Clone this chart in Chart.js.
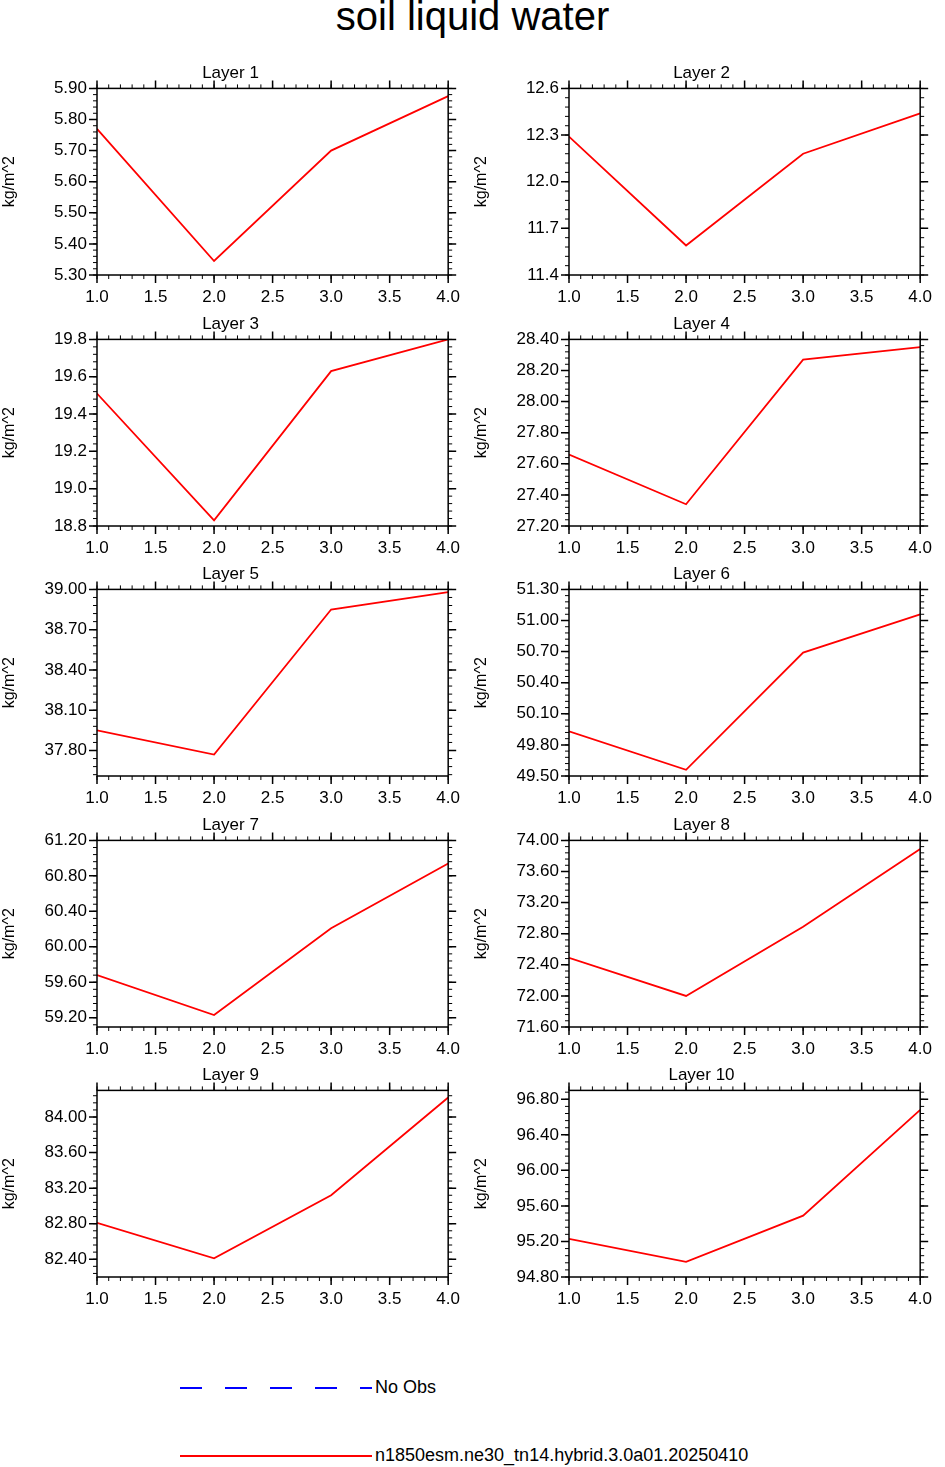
<!DOCTYPE html>
<html>
<head>
<meta charset="utf-8">
<script src="https://cdn.jsdelivr.net/npm/chart.js@4/dist/chart.umd.min.js"></script>
<style>
  body { margin: 0; background: #fff; font-family: "Liberation Sans", Arial, sans-serif; }
  #page { position: relative; width: 945px; height: 1467px; }
  #title { position: absolute; top: -6px; width: 945px; text-align: center; font-size: 40px; }
  .panel { position: absolute; width: 472px; height: 260px; }
  .leg { position: absolute; left: 180px; width: 192px; height: 2px; }
  .legtxt { position: absolute; left: 375px; font-size: 18px; }
</style>
</head>
<body>
<div id="page">
  <div id="title">soil liquid water</div>
  <div class="leg" style="top:1387px;background:repeating-linear-gradient(90deg,#0000ff 0 22px,transparent 22px 45px)"></div>
  <div class="legtxt" style="top:1377px">No Obs</div>
  <div class="leg" style="top:1455px;background:#ff0000"></div>
  <div class="legtxt" style="top:1445px">n1850esm.ne30_tn14.hybrid.3.0a01.20250410</div>
</div>
<script>
const xValues = [1, 2, 3, 4];
const layerNames = ["Layer 1", "Layer 2", "Layer 3", "Layer 4", "Layer 5",
                    "Layer 6", "Layer 7", "Layer 8", "Layer 9", "Layer 10"];
const layer1 = [5.77, 5.345, 5.70, 5.875];
const layer2 = [12.29, 11.59, 12.18, 12.44];
const layer3 = [19.51, 18.83, 19.63, 19.80];
const layer4 = [27.66, 27.34, 28.27, 28.35];
const layer5 = [37.95, 37.77, 38.85, 38.98];
const layer6 = [49.93, 49.56, 50.69, 51.06];
const layer7 = [59.68, 59.23, 60.21, 60.94];
const layer8 = [72.49, 72.00, 72.89, 73.89];
const layer9 = [82.81, 82.41, 83.12, 84.22];
const layer10 = [95.23, 94.97, 95.49, 96.68];
// y axis [min, max, step, decimals]
const yRanges = [
  [5.30, 5.90, 0.1, 2], [11.4, 12.6, 0.3, 1], [18.8, 19.8, 0.2, 1],
  [27.20, 28.40, 0.2, 2], [37.61, 39.00, 0.3, 2], [49.50, 51.30, 0.3, 2],
  [59.095, 61.20, 0.4, 2], [71.60, 74.00, 0.4, 2], [82.20, 84.30, 0.4, 2],
  [94.80, 96.90, 0.4, 2]
];
const allLayers = [layer1, layer2, layer3, layer4, layer5, layer6, layer7, layer8, layer9, layer10];

const FONT = "Liberation Sans";

// draws outward major/minor ticks on all four sides, plus the frame
const tickFrame = {
  id: "tickFrame",
  afterDraw(chart) {
    const { ctx, chartArea: a, scales } = chart;
    ctx.save();
    ctx.strokeStyle = "#000";
    ctx.lineWidth = 1.5;
    ctx.strokeRect(a.left, a.top, a.right - a.left, a.bottom - a.top);
    const drawTicks = (scale, horizontal) => {
      const vals = scale.ticks.map((t) => t.value);
      const step = vals.length > 1 ? vals[1] - vals[0] : 0;
      const minors = [];
      for (let v = vals[0] - step; v <= scale.max + 1e-9; v += step / 5) {
        if (v >= scale.min - 1e-9) minors.push(v);
      }
      const mark = (v, len) => {
        const p = scale.getPixelForValue(v);
        ctx.beginPath();
        if (horizontal) {
          ctx.moveTo(p, a.bottom); ctx.lineTo(p, a.bottom + len);
          ctx.moveTo(p, a.top); ctx.lineTo(p, a.top - len);
        } else {
          ctx.moveTo(a.left, p); ctx.lineTo(a.left - len, p);
          ctx.moveTo(a.right, p); ctx.lineTo(a.right + len, p);
        }
        ctx.stroke();
      };
      ctx.lineWidth = 1;
      minors.forEach((v) => mark(v, 4));
      ctx.lineWidth = 1.5;
      vals.forEach((v) => mark(v, 8));
    };
    drawTicks(scales.x, true);
    drawTicks(scales.y, false);
    ctx.restore();
  },
};

const page = document.getElementById("page");
allLayers.forEach((data, i) => {
  const col = i % 2, row = Math.floor(i / 2);
  const div = document.createElement("div");
  div.className = "panel";
  div.style.left = (col * 472) + "px";
  div.style.top = (60 + row * 250.5) + "px";
  const canvas = document.createElement("canvas");
  canvas.width = 472;
  canvas.height = 260;
  div.appendChild(canvas);
  page.appendChild(div);
  const [ymin, ymax, ystep, dec] = yRanges[i];
  new Chart(canvas, {
    type: "line",
    data: {
      datasets: [{
        data: xValues.map((x, k) => ({ x: x, y: data[k] })),
        borderColor: "#ff0000",
        borderWidth: 1.8,
        pointRadius: 0,
        tension: 0,
      }],
    },
    options: {
      responsive: false,
      animation: false,
      devicePixelRatio: 1,
      layout: { padding: { top: 0, right: col ? 13 : 11, bottom: 0, left: 0 } },
      plugins: {
        legend: { display: false },
        tooltip: { enabled: false },
        title: {
          display: true, text: layerNames[i], color: "#000",
          font: { family: FONT, size: 17, weight: "normal" },
          padding: { top: 3, bottom: 5 },
        },
      },
      scales: {
        x: {
          type: "linear", min: 1, max: 4,
          grid: { display: false, drawTicks: false },
          border: { display: false },
          ticks: {
            stepSize: 0.5, padding: 12, color: "#000",
            font: { family: FONT, size: 17 },
            callback: (v) => v.toFixed(1), maxRotation: 0,
          },
          afterFit: (s) => { s.height = 45; },
        },
        y: {
          min: ymin, max: ymax,
          grid: { display: false, drawTicks: false },
          border: { display: false },
          afterBuildTicks: (s) => {
            const t = [];
            const first = Math.ceil((ymin - 1e-6) / ystep) * ystep;
            for (let v = first; v <= ymax + 1e-6; v += ystep) t.push({ value: +v.toFixed(4) });
            s.ticks = t;
          },
          ticks: {
            padding: 10, color: "#000",
            font: { family: FONT, size: 17 },
            callback: (v) => v.toFixed(dec),
          },
          title: {
            display: true, text: "kg/m^2", color: "#000",
            font: { family: FONT, size: 16 }, padding: 0,
          },
          afterFit: (s) => { s.width = 97; },
        },
      },
    },
    plugins: [tickFrame],
  });
});
</script>
</body>
</html>
